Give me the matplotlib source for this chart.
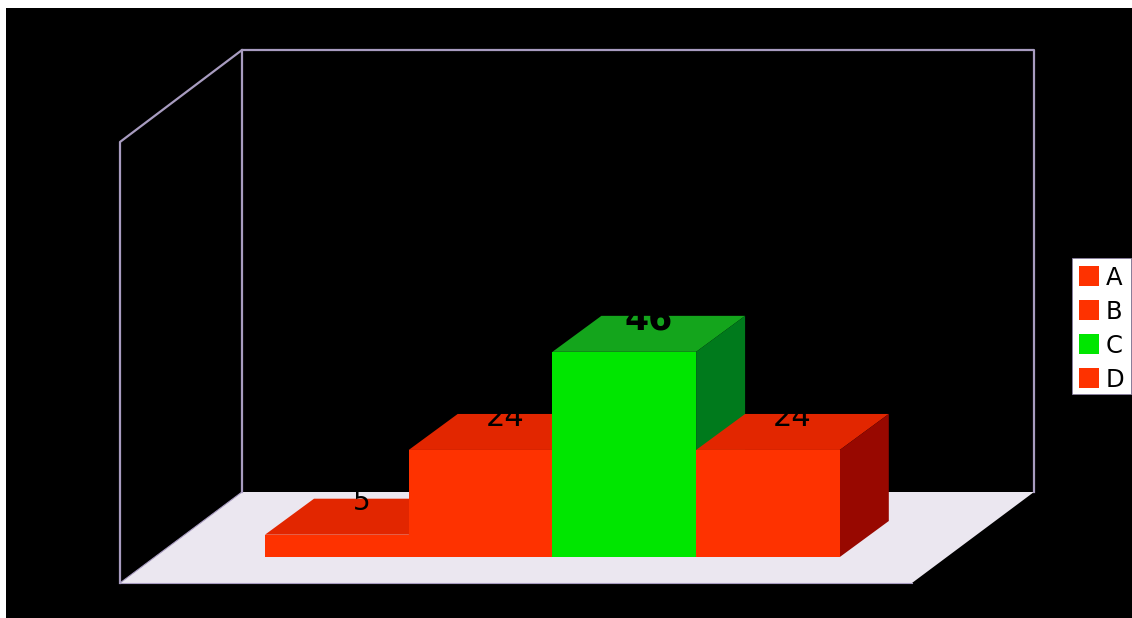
import matplotlib
matplotlib.use("Agg")
import matplotlib.pyplot as plt
from matplotlib.patches import Polygon, Rectangle

categories = ["A", "B", "C", "D"]
values = [5, 24, 46, 24]
label_sizes = [20, 22, 25, 22]
label_weights = ["normal", "normal", "bold", "normal"]
label_drop = [11, 12.5, 14, 12.5]

# front / top / side shades per bar
front_colors = ["#fe3200", "#fe3200", "#00e600", "#fe3200"]
top_colors = ["#e22600", "#e22600", "#14a51c", "#e22600"]
side_colors = ["#980800", "#980800", "#007a1c", "#980800"]

W, H = 1132, 618
# scene geometry in pixels
x0 = 265          # left edge of first bar
bar_w = 143.7
base_y = 557
unit = 4.46       # pixels per value unit
dx, dy = 49, -36  # bar depth

fig = plt.figure(figsize=(W / 100, H / 100), dpi=100, facecolor="white")
ax = fig.add_axes([0, 0, 1, 1])
ax.set_xlim(0, W)
ax.set_ylim(H, 0)
ax.axis("off")

ax.add_patch(Rectangle((6, 8), W - 6, H - 8, fc="black", ec="none", zorder=0))

# floor
ax.add_patch(Polygon([(120, 583), (912, 583), (1034, 492), (242, 492)],
                     fc="#ebe7f0", ec="none", zorder=1))

# walls
wall = "#a89cc0"
ax.plot([120, 120, 242, 1034, 1034], [583, 142, 50, 50, 492], color=wall, lw=1.6, zorder=1.5)
ax.plot([242, 242], [50, 492], color=wall, lw=1.6, zorder=1.5)
ax.plot([120, 242], [583, 492], color=wall, lw=0.8, zorder=1.5)
ax.plot([120, 912], [583, 583], color=wall, lw=0.8, zorder=1.5)

# bars, left to right so nearer faces cover the previous ones
for i, v in enumerate(values):
    left = x0 + i * bar_w
    right = left + bar_w
    top = base_y - v * unit
    z = 2 + i * 0.1
    ax.add_patch(Polygon([(left, top), (right, top), (right + dx, top + dy), (left + dx, top + dy)],
                         fc=top_colors[i], ec="none", zorder=z))
    ax.add_patch(Polygon([(right, top), (right + dx, top + dy), (right + dx, base_y + dy), (right, base_y)],
                         fc=side_colors[i], ec="none", zorder=z))
    ax.add_patch(Rectangle((left, top), bar_w, v * unit, fc=front_colors[i], ec="none", zorder=z))

# value labels sit on the top faces, black on black above them
for i, v in enumerate(values):
    cx = x0 + (i + 0.5) * bar_w + dx / 2
    y = base_y - v * unit + dy + label_drop[i]
    ax.text(cx, y, str(v), ha="center", va="baseline", color="black",
            fontsize=label_sizes[i], fontweight=label_weights[i], zorder=5)

# legend
ax.add_patch(Rectangle((1072, 258), 59, 136, fc="white", ec="#8a80a0", lw=0.6, zorder=6))
for i, name in enumerate(categories):
    yc = 276 + i * 34
    ax.add_patch(Rectangle((1079, yc - 10), 20, 20, fc=front_colors[i], ec="none", zorder=7))
    ax.text(1105.5, yc + 9, name, ha="left", va="baseline", color="black", fontsize=17.5, zorder=7)

fig.savefig("out.png", dpi=100, facecolor=fig.get_facecolor())
